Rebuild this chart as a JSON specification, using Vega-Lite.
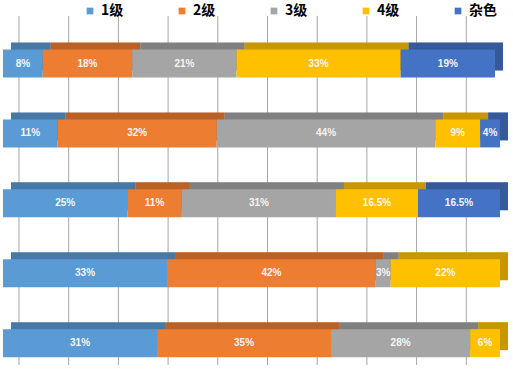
{
  "$schema": "https://vega.github.io/schema/vega-lite/v6.json",
  "width": 497,
  "height": 349,
  "autosize": {"type": "none"},
  "padding": {"left": 3, "top": 16, "right": 13, "bottom": 9},
  "background": "white",
  "config": {"view": {"stroke": null}},
  "data": {"values": [
    {"row": "r1", "level": "1级", "value": 0.08},
    {"row": "r1", "level": "2级", "value": 0.18},
    {"row": "r1", "level": "3级", "value": 0.21},
    {"row": "r1", "level": "4级", "value": 0.33},
    {"row": "r1", "level": "杂色", "value": 0.19},
    {"row": "r2", "level": "1级", "value": 0.11},
    {"row": "r2", "level": "2级", "value": 0.32},
    {"row": "r2", "level": "3级", "value": 0.44},
    {"row": "r2", "level": "4级", "value": 0.09},
    {"row": "r2", "level": "杂色", "value": 0.04},
    {"row": "r3", "level": "1级", "value": 0.25},
    {"row": "r3", "level": "2级", "value": 0.11},
    {"row": "r3", "level": "3级", "value": 0.31},
    {"row": "r3", "level": "4级", "value": 0.165},
    {"row": "r3", "level": "杂色", "value": 0.165},
    {"row": "r4", "level": "1级", "value": 0.33},
    {"row": "r4", "level": "2级", "value": 0.42},
    {"row": "r4", "level": "3级", "value": 0.03},
    {"row": "r4", "level": "4级", "value": 0.22},
    {"row": "r5", "level": "1级", "value": 0.31},
    {"row": "r5", "level": "2级", "value": 0.35},
    {"row": "r5", "level": "3级", "value": 0.28},
    {"row": "r5", "level": "4级", "value": 0.06}
  ]},
  "transform": [
    {"stack": "value", "groupby": ["row"], "sort": [{"field": "level", "order": "ascending"}], "as": ["v0", "v1"]}
  ],
  "encoding": {
    "y": {"field": "row", "type": "nominal", "sort": null, "axis": null,
          "scale": {"paddingInner": 0.6, "paddingOuter": 0.296, "align": 0.81}}
  },
  "layer": [
    {
      "data": {"values": [{"g": 0}, {"g": 0.1}, {"g": 0.2}, {"g": 0.3}, {"g": 0.4}, {"g": 0.5}, {"g": 0.6}, {"g": 0.7}, {"g": 0.8}, {"g": 0.9}]},
      "transform": [],
      "mark": {"type": "rule", "color": "#A6A6A6", "strokeWidth": 1, "xOffset": 16},
      "encoding": {
        "y": null,
        "x": {"field": "g", "type": "quantitative", "scale": {"domain": [0, 1], "nice": false, "zero": true}, "axis": null}
      }
    },
    {
      "mark": {"type": "bar", "xOffset": 8, "x2Offset": 8, "yOffset": -7},
      "encoding": {
        "x": {"field": "v0", "type": "quantitative", "axis": null},
        "x2": {"field": "v1"},
        "color": {"field": "level", "type": "nominal"}
      }
    },
    {
      "mark": {"type": "bar", "xOffset": 8, "x2Offset": 8, "yOffset": -7, "fill": "#000000", "fillOpacity": 0.22},
      "encoding": {
        "x": {"field": "v0", "type": "quantitative", "axis": null},
        "x2": {"field": "v1"}
      }
    },
    {
      "mark": {"type": "bar"},
      "encoding": {
        "x": {"field": "v0", "type": "quantitative", "axis": null},
        "x2": {"field": "v1"},
        "color": {"field": "level", "type": "nominal", "title": null,
                  "scale": {"domain": ["1级", "2级", "3级", "4级", "杂色"],
                            "range": ["#5B9BD5", "#ED7D31", "#A5A5A5", "#FFC000", "#4472C4"]},
                  "legend": {"orient": "none", "legendX": 80, "legendY": -12, "direction": "horizontal",
                             "columns": 5, "gridAlign": "all", "columnPadding": 46, "padding": 0,
                             "symbolType": "square", "symbolSize": 45, "symbolStrokeWidth": 0, "labelOffset": 4,
                             "labelFont": "Noto Sans CJK SC", "labelFontSize": 14, "labelFontWeight": "bold",
                             "labelColor": "#000000"}}
      }
    },
    {
      "transform": [
        {"fold": ["v0", "v1"], "as": ["k", "pos"]},
        {"aggregate": [{"op": "mean", "field": "pos", "as": "mid"}], "groupby": ["row", "level", "value"]}
      ],
      "mark": {"type": "text", "font": "Liberation Sans", "fontSize": 10, "fontWeight": "bold", "fill": "#F5F5F5", "align": "center", "baseline": "middle"},
      "encoding": {
        "x": {"field": "mid", "type": "quantitative", "axis": null},
        "text": {"field": "value", "type": "quantitative", "format": ".1~%"}
      }
    }
  ]
}
